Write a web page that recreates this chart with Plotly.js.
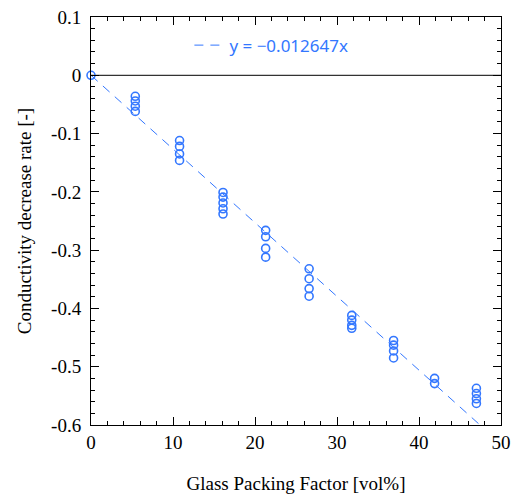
<!DOCTYPE html>
<html>
<head>
<meta charset="utf-8">
<script src="https://cdn.plot.ly/plotly-3.0.1.min.js"></script>
<style>html,body{margin:0;padding:0;background:#fff;}#chart{width:519px;height:497px;}</style>
</head>
<body>
<div id="chart"></div>
<script>
// Glass packing factor [vol%] for each measured point
var packingX = [0,
  5.4, 5.4, 5.4, 5.4,
  10.8, 10.8, 10.8, 10.8,
  16.1, 16.1, 16.1, 16.1, 16.1,
  21.3, 21.3, 21.3, 21.3,
  26.6, 26.6, 26.6, 26.6,
  31.8, 31.8, 31.8, 31.8,
  36.9, 36.9, 36.9, 36.9,
  41.9, 41.9,
  47.0, 47.0, 47.0, 47.0];
// Conductivity decrease rate [-]
var decreaseY = [0,
  -0.036, -0.044, -0.053, -0.062,
  -0.112, -0.122, -0.135, -0.146,
  -0.201, -0.209, -0.219, -0.229, -0.238,
  -0.266, -0.277, -0.297, -0.312,
  -0.332, -0.349, -0.366, -0.379,
  -0.412, -0.420, -0.429, -0.434,
  -0.455, -0.463, -0.473, -0.485,
  -0.520, -0.529,
  -0.537, -0.546, -0.555, -0.563];
// Linear fit through origin
var fitSlope = -0.012647;
var fitX = [0, 47.45];
var fitY = fitX.map(function(v){ return v * fitSlope; });
var zeroLineX = [0, 50];
var zeroLineY = [0, 0];
var xTickVals = [0, 10, 20, 30, 40, 50];
var xTickText = ['0', '10', '20', '30', '40', '50'];
var yTickVals = [0.1, 0, -0.1, -0.2, -0.3, -0.4, -0.5, -0.6];
var yTickText = ['0.1', '0', '-0.1', '-0.2', '-0.3', '-0.4', '-0.5', '-0.6'];

var blue = '#3377ff';
var serif = 'Liberation Serif, Times New Roman, serif';
var traces = [
  {x: zeroLineX, y: zeroLineY, mode: 'lines', line: {color: '#333', width: 1.3}, showlegend: false, hoverinfo: 'skip'},
  {x: fitX, y: fitY, mode: 'lines', name: 'y = \u22120.012647x',
   line: {color: blue, width: 1, dash: '9px,7px'}, showlegend: true},
  {x: packingX, y: decreaseY, mode: 'markers', showlegend: false, cliponaxis: false,
   marker: {symbol: 'circle-open', size: 8, color: blue, line: {width: 1.6, color: blue}}}
];
var axisCommon = {
  showgrid: false, zeroline: false, showline: true, mirror: 'ticks',
  linecolor: '#000', linewidth: 1, ticks: 'inside', ticklen: 8, tickwidth: 1, tickcolor: '#000',
  tickfont: {family: serif, size: 19, color: '#000'}
};
var layout = {
  width: 519, height: 497,
  margin: {l: 91, r: 18, t: 17, b: 72},
  paper_bgcolor: '#fff', plot_bgcolor: '#fff',
  showlegend: true,
  legend: {x: 0.24, y: 0.93, xanchor: 'left', yanchor: 'middle', bgcolor: 'rgba(0,0,0,0)',
    font: {family: 'Noto Sans, DejaVu Sans, sans-serif', size: 17, color: blue}},
  xaxis: Object.assign({}, axisCommon, {
    range: [0, 50], tickvals: xTickVals, ticktext: xTickText,
    minor: {dtick: 2, ticks: 'inside', ticklen: 4, tickcolor: '#000', tickwidth: 1},
    title: {text: 'Glass Packing Factor [vol%]', standoff: 24,
      font: {family: serif, size: 19, color: '#000'}}
  }),
  yaxis: Object.assign({}, axisCommon, {
    range: [-0.6, 0.1], tickvals: yTickVals, ticktext: yTickText, ticklabelstandoff: 5,
    minor: {dtick: 0.02, ticks: 'inside', ticklen: 4, tickcolor: '#000', tickwidth: 1},
    title: {text: 'Conductivity decrease rate [-]', standoff: 14,
      font: {family: serif, size: 19, color: '#000'}}
  })
};
Plotly.newPlot('chart', traces, layout, {displayModeBar: false, staticPlot: true});
</script>
</body>
</html>
